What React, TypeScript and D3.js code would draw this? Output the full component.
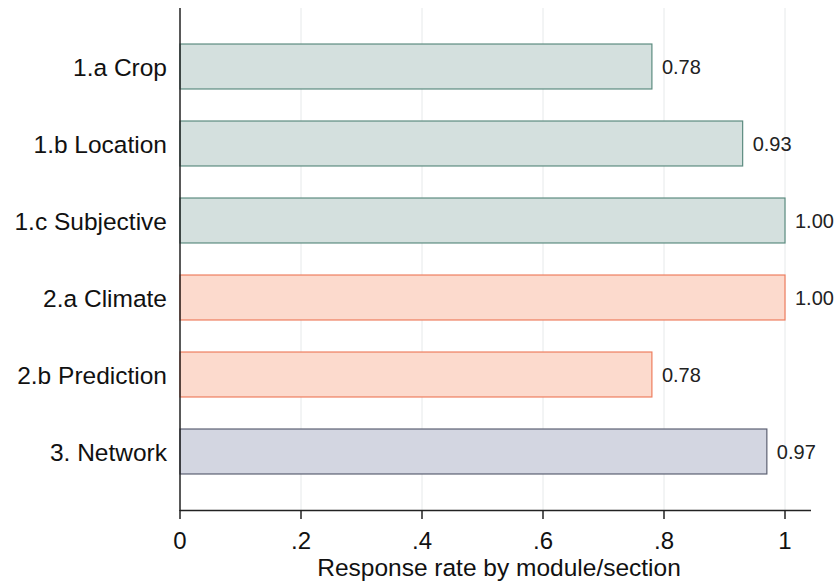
import React from "react";
import * as d3 from "d3";

const categories = ["1.a Crop", "1.b Location", "1.c Subjective", "2.a Climate", "2.b Prediction", "3. Network"];
const values = [0.78, 0.93, 1.0, 1.0, 0.78, 0.97];
const groups = ["m1", "m1", "m1", "m2", "m2", "m3"];
const xTicks = [0, 0.2, 0.4, 0.6, 0.8, 1];
const xTickLabels = ["0", ".2", ".4", ".6", ".8", "1"];

const fills: Record<string, string> = { m1: "#d4e0de", m2: "#fcdacd", m3: "#d3d6e1" };
const strokes: Record<string, string> = { m1: "#5d8c80", m2: "#ee7e5f", m3: "#5c6072" };

export default function App() {
  const W = 836, H = 583;
  const x = d3.scaleLinear().domain([0, 1]).range([180, 785]);
  const y = d3.scaleBand<string>().domain(categories).range([28, 490]).paddingInner(0.416).paddingOuter(0.208);
  const font = "Liberation Sans, Arial, sans-serif";
  return (
    <svg width={W} height={H} style={{ position: "absolute", left: 0, top: 0, background: "#fff" }}>
      {xTicks.slice(1).map((t) => (
        <line key={"g" + t} x1={x(t)} x2={x(t)} y1={8} y2={510} stroke="#e6e9ea" strokeWidth={1} />
      ))}
      {categories.map((c, i) => (
        <g key={c}>
          <rect x={x(0)} y={y(c)!} width={x(values[i]) - x(0)} height={y.bandwidth()}
            fill={fills[groups[i]]} stroke={strokes[groups[i]]} strokeWidth={1.2} />
          <text x={x(values[i]) + 10} y={y(c)! + y.bandwidth() / 2 + 7.5}
            fontFamily={font} fontSize={20} fill="#222">{values[i].toFixed(2)}</text>
          <text x={167} y={y(c)! + y.bandwidth() / 2 + 9} textAnchor="end"
            fontFamily={font} fontSize={24.5} fill="#111">{c}</text>
        </g>
      ))}
      <line x1={180} x2={180} y1={8} y2={511} stroke="#222" strokeWidth={1.5} />
      <line x1={180} x2={811} y1={510.5} y2={510.5} stroke="#222" strokeWidth={1.5} />
      {xTicks.map((t, i) => (
        <g key={"t" + t}>
          <line x1={x(t)} x2={x(t)} y1={510} y2={519} stroke="#222" strokeWidth={1.5} />
          <text x={x(t)} y={549} textAnchor="middle"
            fontFamily={font} fontSize={24} fill="#111">{xTickLabels[i]}</text>
        </g>
      ))}
      <text x={499} y={576} textAnchor="middle"
        fontFamily={font} fontSize={24.5} fill="#111">Response rate by module/section</text>
    </svg>
  );
}
